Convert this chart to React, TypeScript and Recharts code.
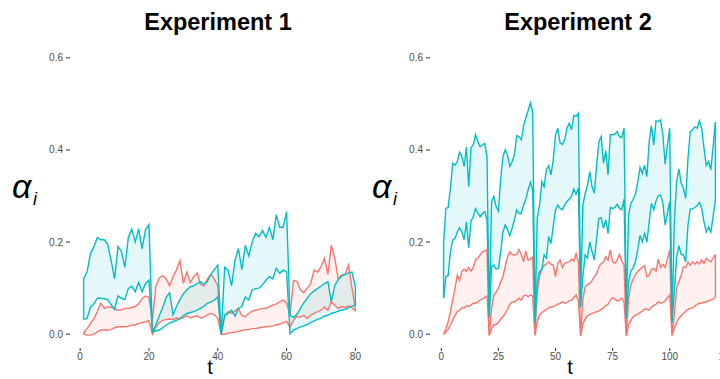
import React from 'react';
import { ComposedChart, Area, Line, XAxis, YAxis, ReferenceLine } from 'recharts';

const TEAL = '#00BFC4';
const RED = '#F8766D';

// Experiment 1 (t = 1..80)
const e1TealHi = [
  0.12, 0.135, 0.175, 0.19, 0.21, 0.205, 0.205, 0.195, 0.16, 0.12, 0.19, 0.18, 0.145, 0.21, 0.228, 0.2, 0.229, 0.185, 0.227, 0.238,
  0.005, 0.02, 0.04, 0.058, 0.08, 0.09, 0.042, 0.06, 0.075, 0.088, 0.096, 0.103, 0.105, 0.11, 0.114, 0.108, 0.115, 0.13, 0.14, 0.15,
  0.0, 0.145, 0.139, 0.105, 0.16, 0.186, 0.14, 0.193, 0.17, 0.2, 0.219, 0.212, 0.225, 0.21, 0.232, 0.205, 0.259, 0.232, 0.232, 0.266,
  0.041, 0.036, 0.043, 0.056, 0.068, 0.078, 0.088, 0.094, 0.099, 0.104, 0.11, 0.114, 0.07, 0.106, 0.118, 0.126, 0.13, 0.133, 0.135, 0.103,
];
const e1TealLo = [
  0.032, 0.034, 0.059, 0.066, 0.078, 0.078, 0.077, 0.075, 0.064, 0.054, 0.083, 0.078, 0.075, 0.099, 0.104, 0.092, 0.112, 0.092, 0.11, 0.117,
  0.005, 0.007, 0.009, 0.014, 0.02, 0.024, 0.027, 0.03, 0.034, 0.04, 0.045, 0.047, 0.049, 0.052, 0.056, 0.061, 0.067, 0.07, 0.074, 0.081,
  0.0, 0.041, 0.045, 0.052, 0.039, 0.056, 0.06, 0.081, 0.074, 0.096, 0.099, 0.1, 0.107, 0.117, 0.125, 0.12, 0.143, 0.132, 0.139, 0.135,
  0.001, 0.009, 0.012, 0.016, 0.018, 0.021, 0.025, 0.029, 0.032, 0.035, 0.039, 0.041, 0.045, 0.047, 0.05, 0.052, 0.054, 0.057, 0.061, 0.063,
];
const e1RedHi = [
  0.003, 0.012, 0.023, 0.034, 0.049, 0.067, 0.056, 0.059, 0.059, 0.056, 0.052, 0.053, 0.056, 0.056, 0.058, 0.06, 0.066, 0.077, 0.083, 0.08,
  0.03, 0.105, 0.122, 0.127, 0.12, 0.105, 0.125, 0.14, 0.16, 0.11, 0.135, 0.112, 0.125, 0.133, 0.108, 0.105, 0.12, 0.13, 0.12, 0.105,
  0.0, 0.04, 0.049, 0.045, 0.05, 0.056, 0.04, 0.038, 0.045, 0.05, 0.052, 0.054, 0.056, 0.056, 0.06, 0.063, 0.066, 0.07, 0.074, 0.068,
  0.04, 0.117, 0.115, 0.097, 0.09, 0.1, 0.11, 0.139, 0.135, 0.146, 0.165, 0.13, 0.193, 0.165, 0.12, 0.128, 0.13, 0.15, 0.1, 0.055,
];
const e1RedLo = [
  0.0, -0.002, -0.002, 0.0, 0.005, 0.009, 0.009, 0.009, 0.01, 0.014, 0.016, 0.016, 0.016, 0.017, 0.02, 0.02, 0.023, 0.025, 0.027, 0.03,
  0.0, 0.015, 0.025, 0.03, 0.032, 0.033, 0.032, 0.035, 0.033, 0.036, 0.04, 0.035, 0.038, 0.04, 0.035, 0.037, 0.042, 0.045, 0.042, 0.035,
  0.0, 0.0, 0.002, 0.004, 0.004, 0.006, 0.008, 0.01, 0.01, 0.012, 0.012, 0.014, 0.015, 0.016, 0.017, 0.018, 0.02, 0.022, 0.025, 0.028,
  0.015, 0.03, 0.039, 0.037, 0.041, 0.034, 0.041, 0.045, 0.049, 0.052, 0.059, 0.052, 0.07, 0.063, 0.056, 0.06, 0.058, 0.061, 0.058, 0.05,
];

// Experiment 2 (t = 1..120)
const e2TealHi = [
  0.2, 0.273, 0.275, 0.317, 0.371, 0.367, 0.375, 0.395, 0.386, 0.364, 0.407, 0.32, 0.405, 0.411, 0.433, 0.418, 0.407, 0.411, 0.414, 0.386,
  0.04, 0.288, 0.299, 0.277, 0.267, 0.338, 0.386, 0.4, 0.389, 0.364, 0.375, 0.389, 0.431, 0.429, 0.422, 0.451, 0.47, 0.485, 0.502, 0.483,
  0.03, 0.252, 0.28, 0.331, 0.32, 0.357, 0.366, 0.346, 0.378, 0.433, 0.447, 0.415, 0.412, 0.422, 0.447, 0.458, 0.444, 0.475, 0.473, 0.48,
  0.08, 0.281, 0.306, 0.323, 0.353, 0.32, 0.306, 0.367, 0.418, 0.429, 0.371, 0.398, 0.346, 0.433, 0.433, 0.434, 0.44, 0.429, 0.427, 0.447,
  0.05, 0.259, 0.284, 0.293, 0.304, 0.33, 0.362, 0.349, 0.367, 0.342, 0.418, 0.453, 0.411, 0.463, 0.462, 0.465, 0.433, 0.369, 0.411, 0.447,
  0.028, 0.244, 0.331, 0.359, 0.328, 0.317, 0.295, 0.382, 0.44, 0.444, 0.45, 0.447, 0.463, 0.447, 0.404, 0.366, 0.375, 0.357, 0.407, 0.46,
];
const e2TealLo = [
  0.078, 0.125, 0.128, 0.179, 0.204, 0.208, 0.222, 0.231, 0.222, 0.205, 0.244, 0.187, 0.246, 0.255, 0.273, 0.262, 0.255, 0.262, 0.266, 0.248,
  0.035, 0.147, 0.15, 0.141, 0.143, 0.179, 0.222, 0.237, 0.226, 0.214, 0.23, 0.248, 0.27, 0.262, 0.262, 0.28, 0.293, 0.313, 0.33, 0.313,
  0.025, 0.114, 0.136, 0.139, 0.172, 0.165, 0.212, 0.197, 0.233, 0.27, 0.28, 0.273, 0.27, 0.28, 0.288, 0.293, 0.299, 0.315, 0.304, 0.317,
  0.058, 0.128, 0.172, 0.165, 0.2, 0.179, 0.161, 0.208, 0.251, 0.253, 0.23, 0.248, 0.219, 0.275, 0.273, 0.275, 0.282, 0.273, 0.27, 0.293,
  0.034, 0.114, 0.137, 0.144, 0.157, 0.183, 0.215, 0.2, 0.219, 0.2, 0.244, 0.284, 0.27, 0.289, 0.301, 0.302, 0.284, 0.237, 0.262, 0.288,
  0.025, 0.092, 0.165, 0.192, 0.173, 0.172, 0.157, 0.237, 0.272, 0.272, 0.275, 0.279, 0.286, 0.273, 0.244, 0.222, 0.233, 0.222, 0.255, 0.291,
];
const e2RedHi = [
  0.0, 0.012, 0.027, 0.049, 0.074, 0.1, 0.128, 0.117, 0.136, 0.141, 0.136, 0.145, 0.137, 0.145, 0.161, 0.165, 0.172, 0.179, 0.181, 0.183,
  -0.002, 0.056, 0.085, 0.092, 0.1, 0.114, 0.125, 0.148, 0.168, 0.179, 0.173, 0.172, 0.173, 0.184, 0.173, 0.157, 0.181, 0.161, 0.163, 0.168,
  0.0, 0.092, 0.125, 0.143, 0.149, 0.152, 0.157, 0.152, 0.15, 0.125, 0.154, 0.161, 0.145, 0.154, 0.156, 0.157, 0.163, 0.159, 0.175, 0.157,
  -0.002, 0.078, 0.103, 0.108, 0.11, 0.117, 0.125, 0.132, 0.146, 0.154, 0.156, 0.168, 0.161, 0.183, 0.157, 0.154, 0.161, 0.173, 0.159, 0.15,
  -0.002, 0.078, 0.107, 0.12, 0.13, 0.136, 0.141, 0.146, 0.149, 0.125, 0.128, 0.141, 0.143, 0.137, 0.163, 0.145, 0.152, 0.145, 0.163, 0.183,
  -0.002, 0.042, 0.1, 0.114, 0.128, 0.146, 0.145, 0.157, 0.15, 0.157, 0.152, 0.157, 0.152, 0.161, 0.154, 0.165, 0.16, 0.157, 0.165, 0.173,
];
const e2RedLo = [
  0.0, 0.004, 0.011, 0.02, 0.03, 0.041, 0.049, 0.052, 0.057, 0.057, 0.062, 0.06, 0.063, 0.067, 0.067, 0.07, 0.074, 0.076, 0.08, 0.083,
  -0.003, 0.012, 0.02, 0.021, 0.025, 0.033, 0.038, 0.045, 0.054, 0.065, 0.07, 0.07, 0.074, 0.078, 0.074, 0.083, 0.085, 0.081, 0.085, 0.083,
  -0.003, 0.027, 0.041, 0.047, 0.05, 0.054, 0.057, 0.059, 0.06, 0.062, 0.065, 0.067, 0.07, 0.067, 0.069, 0.072, 0.074, 0.079, 0.085, 0.072,
  -0.004, 0.023, 0.033, 0.04, 0.043, 0.045, 0.047, 0.049, 0.05, 0.054, 0.057, 0.062, 0.065, 0.074, 0.079, 0.076, 0.072, 0.074, 0.078, 0.07,
  -0.004, 0.02, 0.03, 0.038, 0.041, 0.044, 0.047, 0.05, 0.054, 0.054, 0.052, 0.059, 0.062, 0.065, 0.07, 0.067, 0.069, 0.072, 0.079, 0.085,
  -0.003, 0.012, 0.025, 0.034, 0.04, 0.045, 0.05, 0.054, 0.056, 0.057, 0.061, 0.065, 0.067, 0.067, 0.07, 0.07, 0.072, 0.074, 0.076, 0.081,
];

const e1Ticks = [0, 20, 40, 60, 80];
const e2Ticks = [0, 25, 50, 75, 100, 125];
const yTicks = [0, 0.2, 0.4, 0.6];
const yLimits = [0, 0.6];
const titles = ['Experiment 1', 'Experiment 2'];

type Row = {
  t: number; thi: number; tlo: number; rhi: number; rlo: number;
  tr: [number, number]; rr: [number, number];
};

function buildRows(thi: number[], tlo: number[], rhi: number[], rlo: number[]): Row[] {
  return thi.map((v, i) => ({
    t: i + 1, thi: v, tlo: tlo[i], rhi: rhi[i], rlo: rlo[i],
    tr: [tlo[i], v], rr: [rlo[i], rhi[i]],
  }));
}

const expand = (lo: number, hi: number): [number, number] => {
  const d = (hi - lo) * 0.05;
  return [lo - d, hi + d];
};

const W = 380;
const H = 379;
const FONT = '"Liberation Sans", Arial, sans-serif';
const SW = 1.4;

function Panel({ rows, ticks, title, left }: { rows: Row[]; ticks: number[]; title: string; left: number }) {
  const first = rows[0];
  const last = rows[rows.length - 1];
  const xDomain = expand(first.t, last.t);
  const yDomain = expand(yLimits[0], yLimits[1]);
  const tickStyle = { fontSize: 10, fill: '#4D4D4D', fontFamily: FONT };
  const edge = (r: Row, lo: keyof Row, hi: keyof Row, color: string, key: string) => (
    <ReferenceLine
      key={key}
      segment={[{ x: r.t, y: r[lo] as number }, { x: r.t, y: r[hi] as number }]}
      stroke={color}
      strokeWidth={SW}
      ifOverflow="visible"
    />
  );
  return (
    <div style={{ position: 'absolute', left, top: 0, width: W, height: H }}>
      <ComposedChart width={W} height={H} data={rows} margin={{ top: 44, right: 11, bottom: 11, left: 10 }}>
        <XAxis
          type="number"
          dataKey="t"
          domain={xDomain}
          ticks={ticks}
          interval={0}
          allowDataOverflow
          axisLine={false}
          tickLine={{ stroke: '#333333' }}
          tickSize={3}
          tickMargin={2}
          height={20}
          tick={tickStyle}
        />
        <YAxis
          type="number"
          domain={yDomain}
          ticks={yTicks}
          allowDataOverflow
          tickFormatter={(v: number) => v.toFixed(1)}
          axisLine={false}
          tickLine={{ stroke: '#333333' }}
          tickSize={4}
          tickMargin={3}
          width={60}
          tick={tickStyle}
        />
        <Area dataKey="rr" type="linear" stroke="none" fill={RED} fillOpacity={0.1} isAnimationActive={false} />
        <Line dataKey="rhi" type="linear" stroke={RED} strokeWidth={SW} dot={false} isAnimationActive={false} />
        <Line dataKey="rlo" type="linear" stroke={RED} strokeWidth={SW} dot={false} isAnimationActive={false} />
        {edge(first, 'rlo', 'rhi', RED, 'r0')}
        {edge(last, 'rlo', 'rhi', RED, 'r1')}
        <Area dataKey="tr" type="linear" stroke="none" fill={TEAL} fillOpacity={0.1} isAnimationActive={false} />
        <Line dataKey="thi" type="linear" stroke={TEAL} strokeWidth={SW} dot={false} isAnimationActive={false} />
        <Line dataKey="tlo" type="linear" stroke={TEAL} strokeWidth={SW} dot={false} isAnimationActive={false} />
        {edge(first, 'tlo', 'thi', TEAL, 't0')}
        {edge(last, 'tlo', 'thi', TEAL, 't1')}
      </ComposedChart>
      <svg width={W} height={H} style={{ position: 'absolute', left: 0, top: 0, pointerEvents: 'none' }}>
        <text x={218} y={30} textAnchor="middle" fontFamily={FONT} fontWeight="bold" fontSize={23.5} fill="#000">
          {title}
        </text>
        <text x={12} y={198} fontFamily={FONT} fontStyle="italic" fontSize={34} fill="#000">α</text>
        <text x={33} y={205} fontFamily={FONT} fontStyle="italic" fontSize={18} fill="#000">i</text>
        <text x={210} y={374} textAnchor="middle" fontFamily={FONT} fontSize={20} fill="#000">t</text>
      </svg>
    </div>
  );
}

export default function App() {
  const rows1 = buildRows(e1TealHi, e1TealLo, e1RedHi, e1RedLo);
  const rows2 = buildRows(e2TealHi, e2TealLo, e2RedHi, e2RedLo);
  return (
    <div style={{ position: 'absolute', left: 0, top: 0, width: 720, height: 379, overflow: 'hidden', background: '#fff' }}>
      <Panel rows={rows1} ticks={e1Ticks} title={titles[0]} left={0} />
      <Panel rows={rows2} ticks={e2Ticks} title={titles[1]} left={360} />
    </div>
  );
}
